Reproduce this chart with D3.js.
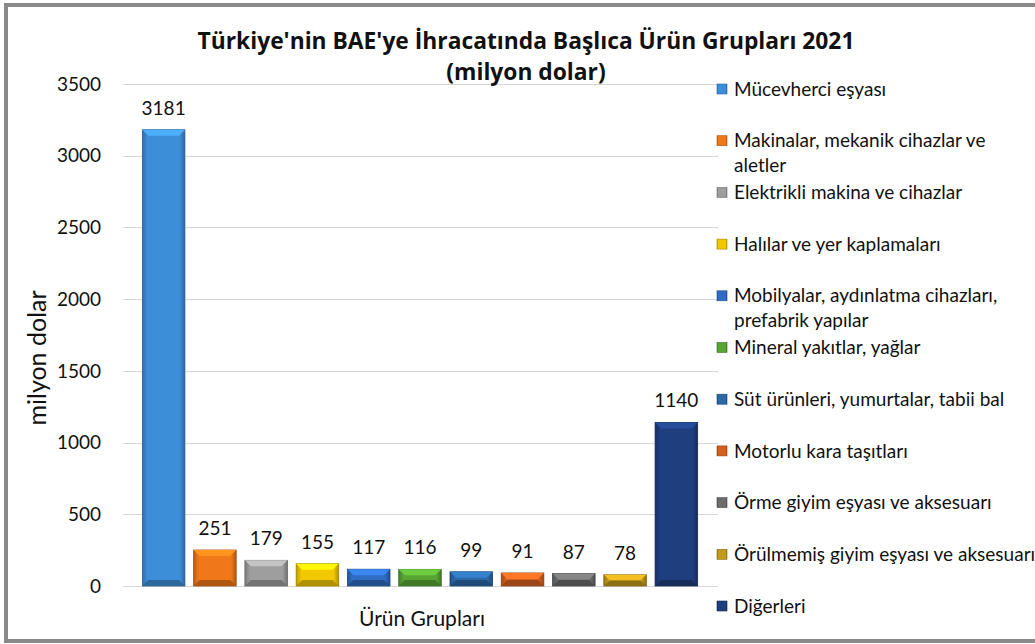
<!DOCTYPE html>
<html>
<head>
<meta charset="utf-8">
<script src="https://cdn.jsdelivr.net/npm/d3@7"></script>
<style>
  body { margin: 0; background: #fff; }
  svg { display: block; font-family: Lato, "Open Sans", sans-serif; }
</style>
</head>
<body>
<svg id="chart" width="1035" height="644"></svg>
<script>
// Data
const categories = [
  'Mücevherci eşyası',
  'Makinalar, mekanik cihazlar ve aletler',
  'Elektrikli makina ve cihazlar',
  'Halılar ve yer kaplamaları',
  'Mobilyalar, aydınlatma cihazları, prefabrik yapılar',
  'Mineral yakıtlar, yağlar',
  'Süt ürünleri, yumurtalar, tabii bal',
  'Motorlu kara taşıtları',
  'Örme giyim eşyası ve aksesuarı',
  'Örülmemiş giyim eşyası ve aksesuarı',
  'Diğerleri'
];
const values = [3181, 251, 179, 155, 117, 116, 99, 91, 87, 78, 1140];
const colors = [
  '#3d8ed8', '#f07818', '#9e9e9e', '#f2c800', '#2f6cc4', '#58a534',
  '#2a68a8', '#d4601e', '#6c6c6c', '#c49a1c', '#1e3e7e'
];
// legend lines (wrapped as in the reference)
const legendLines = [
  ['Mücevherci eşyası'],
  ['Makinalar, mekanik cihazlar ve', 'aletler'],
  ['Elektrikli makina ve cihazlar'],
  ['Halılar ve yer kaplamaları'],
  ['Mobilyalar, aydınlatma cihazları,', 'prefabrik yapılar'],
  ['Mineral yakıtlar, yağlar'],
  ['Süt ürünleri, yumurtalar, tabii bal'],
  ['Motorlu kara taşıtları'],
  ['Örme giyim eşyası ve aksesuarı'],
  ['Örülmemiş giyim eşyası ve aksesuarı'],
  ['Diğerleri']
];
const yTicks = [0, 500, 1000, 1500, 2000, 2500, 3000, 3500];

const svg = d3.select('#chart');

// Outer frame
svg.append('rect')
  .attr('x', 6).attr('y', 5)
  .attr('width', 1060).attr('height', 636)
  .attr('fill', '#fff')
  .attr('stroke', '#8a8a8a')
  .attr('stroke-width', 4);

const x = d3.scaleBand()
  .domain(categories)
  .range([138, 702])
  .paddingInner(0.17)
  .paddingOuter(0.085);

const y = d3.scaleLinear()
  .domain([0, 3500])
  .range([586, 84]);

// Gridlines
svg.append('g')
  .selectAll('line')
  .data(yTicks)
  .join('line')
    .attr('x1', 123).attr('x2', 718)
    .attr('y1', d => Math.round(y(d)) + 0.5)
    .attr('y2', d => Math.round(y(d)) + 0.5)
    .attr('stroke', '#d6d6d6')
    .attr('stroke-width', 1);

// Y tick labels
svg.append('g')
  .selectAll('text')
  .data(yTicks)
  .join('text')
    .attr('x', 101)
    .attr('y', d => y(d))
    .attr('dy', '0.35em')
    .attr('text-anchor', 'end')
    .attr('font-size', 19)
    .attr('fill', '#111')
    .text(d => d);

// Gradients for bevelled bars
const defs = svg.append('defs');
colors.forEach((c, i) => {
  const g = defs.append('linearGradient')
    .attr('id', 'side' + i)
    .attr('x1', 0).attr('x2', 1).attr('y1', 0).attr('y2', 0);
  const base = d3.color(c);
  g.append('stop').attr('offset', 0).attr('stop-color', base.darker(0.7));
  g.append('stop').attr('offset', 0.12).attr('stop-color', base);
  g.append('stop').attr('offset', 0.88).attr('stop-color', base);
  g.append('stop').attr('offset', 1).attr('stop-color', base.darker(0.9));
});

const bars = svg.append('g')
  .selectAll('g')
  .data(categories)
  .join('g');

const bev = 6;

bars.append('rect')
  .attr('x', d => x(d))
  .attr('y', (d, i) => y(values[i]))
  .attr('width', x.bandwidth())
  .attr('height', (d, i) => y(0) - y(values[i]))
  .attr('fill', (d, i) => `url(#side${i})`)
  .attr('stroke', (d, i) => d3.color(colors[i]).darker(1.2))
  .attr('stroke-width', 0.8);

// top bevel
bars.append('path')
  .attr('d', (d, i) => {
    const x0 = x(d), x1 = x0 + x.bandwidth(), t = y(values[i]);
    const h = Math.min(bev, (y(0) - t) / 2);
    return `M${x0},${t}L${x1},${t}L${x1 - bev},${t + h}L${x0 + bev},${t + h}Z`;
  })
  .attr('fill', (d, i) => d3.color(colors[i]).brighter(0.6));

// bottom bevel
bars.append('path')
  .attr('d', (d, i) => {
    const x0 = x(d), x1 = x0 + x.bandwidth(), b = y(0);
    const h = Math.min(bev, (b - y(values[i])) / 2);
    return `M${x0},${b}L${x1},${b}L${x1 - bev},${b - h}L${x0 + bev},${b - h}Z`;
  })
  .attr('fill', (d, i) => d3.color(colors[i]).darker(0.9));

// value labels
bars.append('text')
  .attr('x', d => x(d) + x.bandwidth() / 2)
  .attr('y', (d, i) => y(values[i]) - 15)
  .attr('text-anchor', 'middle')
  .attr('font-size', 19)
  .attr('fill', '#111')
  .text((d, i) => values[i]);

// Title
const title = svg.append('text')
  .attr('x', 526)
  .attr('text-anchor', 'middle')
  .attr('font-family', '"Open Sans", sans-serif')
  .attr('font-size', 22.8)
  .attr('font-weight', 'bold')
  .attr('fill', '#111');
title.append('tspan').attr('x', 526).attr('y', 49)
  .text("Türkiye'nin BAE'ye İhracatında Başlıca Ürün Grupları 2021");
title.append('tspan').attr('x', 526).attr('y', 80)
  .text('(milyon dolar)');

// Axis titles
svg.append('text')
  .attr('transform', 'translate(46,358) rotate(-90)')
  .attr('text-anchor', 'middle')
  .attr('font-size', 25)
  .attr('fill', '#111')
  .text('milyon dolar');

svg.append('text')
  .attr('x', 422)
  .attr('y', 626)
  .attr('text-anchor', 'middle')
  .attr('font-size', 21)
  .attr('fill', '#111')
  .text('Ürün Grupları');

// Legend
const legend = svg.append('g')
  .selectAll('g')
  .data(categories)
  .join('g')
    .attr('transform', (d, i) => `translate(717,${89 + i * 51.7})`);

legend.append('rect')
  .attr('x', 0).attr('y', -5)
  .attr('width', 10).attr('height', 10)
  .attr('fill', (d, i) => `url(#side${i})`)
  .attr('stroke', (d, i) => d3.color(colors[i]).darker(1))
  .attr('stroke-width', 0.6);

legend.append('text')
  .attr('font-size', 19)
  .attr('fill', '#111')
  .selectAll('tspan')
  .data((d, i) => legendLines[i])
  .join('tspan')
    .attr('x', 17)
    .attr('y', (d, j) => j * 25)
    .attr('dy', '0.35em')
    .text(d => d);
</script>
</body>
</html>
